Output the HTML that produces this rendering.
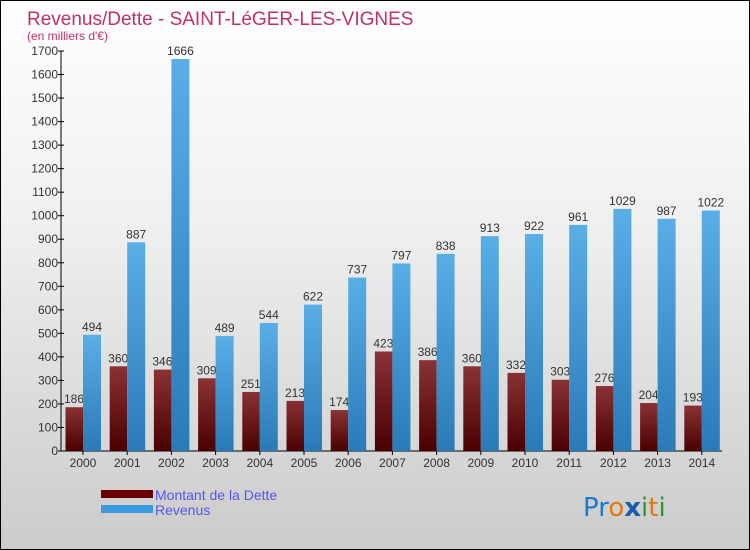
<!DOCTYPE html>
<html><head><meta charset="utf-8"><style>
body{margin:0;}
#c{width:748px;height:548px;border:1px solid #000;background:linear-gradient(#fff,#f0f0f0 40%,#cbcbcb);position:relative;font-family:"Liberation Sans",sans-serif;}
</style></head><body>
<div id="c">
<svg id="s" width="748" height="548" style="position:absolute;left:0;top:0" font-family="Liberation Sans, sans-serif">
<defs>
<linearGradient id="gd" x1="0" y1="0" x2="0" y2="1"><stop offset="0" stop-color="#8a3236"/><stop offset="1" stop-color="#4a0000"/></linearGradient>
<linearGradient id="gr" x1="0" y1="0" x2="0" y2="1"><stop offset="0" stop-color="#5aaee6"/><stop offset="1" stop-color="#2a7ab8"/></linearGradient>
</defs>
<text x="26" y="24" font-size="19" fill="#c0306a">Revenus/Dette - SAINT-LéGER-LES-VIGNES</text>
<text x="26" y="39" font-size="12" fill="#c0306a">(en milliers d'€)</text>
<g id="axes"></g><g id="bars"></g>
<rect x="100" y="489" width="52" height="8" fill="#6a0000"/>
<rect x="100" y="504" width="52" height="8" fill="#3a9ae0"/>
<text x="154" y="499" font-size="14" fill="#5555ee">Montant de la Dette</text>
<text x="154" y="514" font-size="14" fill="#5555ee">Revenus</text>
<text x="582" y="515" font-size="26" font-family="DejaVu Sans, sans-serif"><tspan fill="#1a7ad0">Pr</tspan><tspan fill="#e07a10">o</tspan><tspan fill="#1a5ab0" font-weight="bold">x</tspan><tspan fill="#2a9a30">i</tspan><tspan fill="#e07a10">t</tspan><tspan fill="#2a9a30">i</tspan></text>
</svg></div>
<script>
const years=["2000","2001","2002","2003","2004","2005","2006","2007","2008","2009","2010","2011","2012","2013","2014"];
const dette=[186,360,346,309,251,213,174,423,386,360,332,303,276,204,193];
const revenus=[494,887,1666,489,544,622,737,797,838,913,922,961,1029,987,1022];
const yTicks=[0,100,200,300,400,500,600,700,800,900,1000,1100,1200,1300,1400,1500,1600,1700];
const NS="http://www.w3.org/2000/svg";
const x0=60,step=44.2,yb=450,yt=50,ymax=1700;
function Y(v){return yb-(yb-yt)*v/ymax;}
function X(i){return x0+i*step;}
function mk(tag,at,p){const e=document.createElementNS(NS,tag);for(const k in at)e.setAttribute(k,at[k]);p.appendChild(e);return e;}
const ax=document.getElementById('axes'),bg=document.getElementById('bars');
let l=mk('line',{x1:x0,y1:yt,x2:x0,y2:yb,stroke:'#000'},ax);


l=mk('line',{x1:x0,y1:yb,x2:X(years.length)-2,y2:yb,stroke:'#000'},ax);


yTicks.forEach(v=>{
 mk('line',{x1:x0-3,y1:Y(v),x2:x0+3,y2:Y(v),stroke:'#000'},ax);
 const t=mk('text',{x:x0-3,y:Y(v)+4,'font-size':12,fill:'#333','text-anchor':'end'},ax);t.textContent=v;
 
 
});
years.forEach((yr,i)=>{
 const g=X(i);
 mk('line',{x1:g+22,y1:yb,x2:g+22,y2:yb+4,stroke:'#000'},ax);
 const t=mk('text',{x:g+22,y:yb+16,'font-size':12,fill:'#333','text-anchor':'middle'},ax);t.textContent=yr;
 
 
 let r=mk('rect',{x:g+4.5,y:Y(dette[i]),width:17.5,height:yb-Y(dette[i]),fill:'url(#gd)'},bg);
 
 
 let tv=mk('text',{x:g+13,y:Y(dette[i])-4,'font-size':12,fill:'#333','text-anchor':'middle'},bg);tv.textContent=dette[i];
 
 
 r=mk('rect',{x:g+22,y:Y(revenus[i]),width:18,height:yb-Y(revenus[i]),fill:'url(#gr)'},bg);
 
 
 tv=mk('text',{x:g+31,y:Y(revenus[i])-4,'font-size':12,fill:'#333','text-anchor':'middle'},bg);tv.textContent=revenus[i];
 
 
});
</script>
</body></html>
